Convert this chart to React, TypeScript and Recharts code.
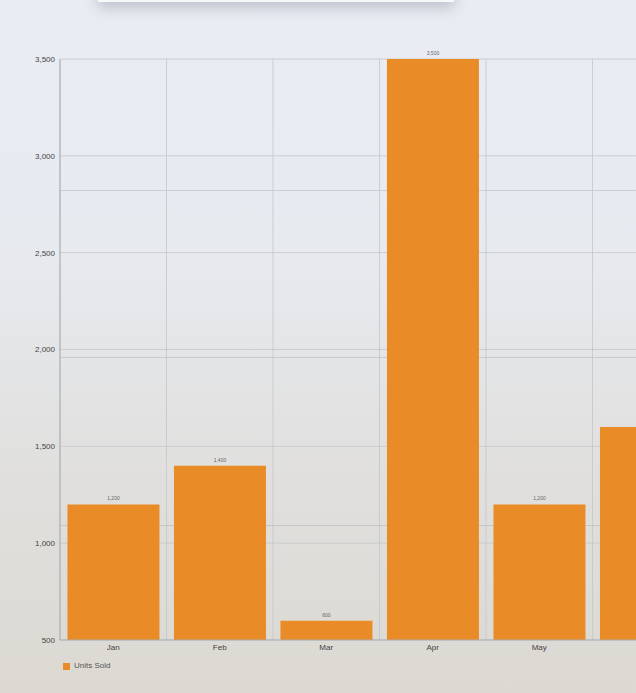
import { BarChart, Bar, XAxis, YAxis, CartesianGrid, Legend, LabelList } from 'recharts'

const MONTHS = ['Jan', 'Feb', 'Mar', 'Apr', 'May', 'Jun']
const UNITS_SOLD = [1200, 1400, 600, 3500, 1200, 1600]
const Y_TICKS = [500, 1000, 1500, 2000, 2500, 3000, 3500]

const chartData = MONTHS.map((month, i) => ({ month, units: UNITS_SOLD[i] }))

const ORANGE = '#e98b27'
const GRID = '#c3c6ca'
const FONT = '"Liberation Sans", Arial, sans-serif'

const fmt = (v: number) => v.toLocaleString('en-US')

function LegendContent() {
  return (
    <div style={{ display: 'flex', alignItems: 'center', fontFamily: FONT, fontSize: 8, color: '#555', lineHeight: '10px' }}>
      <span style={{ width: 7, height: 7, background: ORANGE, display: 'inline-block', marginRight: 4 }} />
      Units Sold
    </div>
  )
}

// vertical grid lines sit on the category band edges, not the tick centres
const bandEdges = ({ offset }: { offset: { left: number; width: number } }) =>
  MONTHS.map((_, i) => offset.left + (i * offset.width) / MONTHS.length)

export default function App() {
  return (
    <div style={{
      position: 'fixed',
      left: 0,
      top: 0,
      width: 636,
      height: 693,
      overflow: 'hidden',
      background: 'linear-gradient(180deg, #e9edf3 0%, #e7eaef 35%, #e0dfdd 70%, #dcd9d2 100%)',
    }}>
      {/* card sitting above the chart, mostly off-screen */}
      <div style={{
        position: 'absolute',
        left: 97,
        top: -40,
        width: 358,
        height: 42,
        background: '#f7f8f9',
        borderRadius: 3,
        boxShadow: '0 6px 14px rgba(40,50,70,0.22)',
      }} />
      {/* faint lines from the backdrop */}
      {[190, 357, 525].map((y) => (
        <div key={y} style={{
          position: 'absolute', left: 60, right: 0, top: y, height: 1,
          background: 'rgba(150,155,160,0.35)',
        }} />
      ))}
      <div style={{ position: 'absolute', left: 0, top: 0 }}>
        <BarChart
          width={700}
          height={693}
          data={chartData}
          margin={{ top: 59, right: 1, left: 0, bottom: 23 }}
          barCategoryGap="7%"
        >
          <CartesianGrid stroke={GRID} strokeWidth={0.8} verticalCoordinatesGenerator={bandEdges} />
          <XAxis
            dataKey="month"
            axisLine={{ stroke: '#a9adb2' }}
            tickLine={false}
            tickSize={2}
            tickMargin={2}
            height={20}
            tick={{ fontSize: 8, fill: '#444', fontFamily: FONT }}
          />
          <YAxis
            domain={[500, 3500]}
            ticks={Y_TICKS}
            tickFormatter={fmt}
            axisLine={{ stroke: '#a9adb2' }}
            tickLine={false}
            tickSize={3}
            tickMargin={2}
            width={60}
            tick={{ fontSize: 8, fill: '#444', fontFamily: FONT }}
            allowDataOverflow
          />
          <Legend
            verticalAlign="bottom"
            align="left"
            height={10}
            content={<LegendContent />}
            wrapperStyle={{ left: 63, top: 661, width: 'auto' }}
          />
          <Bar dataKey="units" fill={ORANGE} isAnimationActive={false}>
            <LabelList
              dataKey="units"
              position="top"
              offset={4}
              formatter={(v: number) => fmt(v)}
              style={{ fontSize: 5, fill: '#666', fontFamily: FONT }}
            />
          </Bar>
        </BarChart>
      </div>
    </div>
  )
}
